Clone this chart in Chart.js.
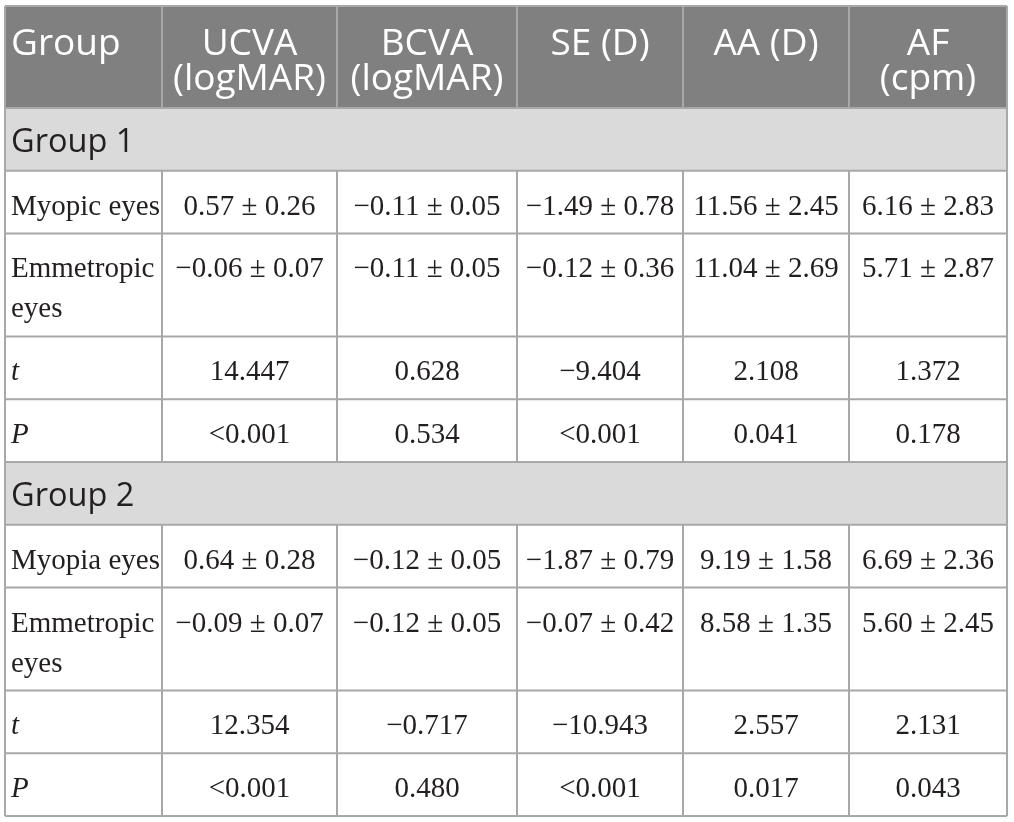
<!DOCTYPE html>
<html>
<head>
<meta charset="utf-8">
<script src="https://cdn.jsdelivr.net/npm/chart.js@4.4.1/dist/chart.umd.min.js"></script>
<style>
  html, body { margin: 0; padding: 0; background: #fff; }
  canvas { display: block; }
</style>
</head>
<body>
<canvas id="table" width="1014" height="822"></canvas>
<script>
// table content
const headers = ['Group', 'UCVA\n(logMAR)', 'BCVA\n(logMAR)', 'SE (D)', 'AA (D)', 'AF\n(cpm)'];
const groups = ['Group 1', 'Group 2'];

const g1Labels = ['Myopic eyes', 'Emmetropic\neyes', 't', 'P'];
const g1Myopic = ['0.57 ± 0.26', '−0.11 ± 0.05', '−1.49 ± 0.78', '11.56 ± 2.45', '6.16 ± 2.83'];
const g1Emmetropic = ['−0.06 ± 0.07', '−0.11 ± 0.05', '−0.12 ± 0.36', '11.04 ± 2.69', '5.71 ± 2.87'];
const g1T = ['14.447', '0.628', '−9.404', '2.108', '1.372'];
const g1P = ['<0.001', '0.534', '<0.001', '0.041', '0.178'];

const g2Labels = ['Myopia eyes', 'Emmetropic\neyes', 't', 'P'];
const g2Myopic = ['0.64 ± 0.28', '−0.12 ± 0.05', '−1.87 ± 0.79', '9.19 ± 1.58', '6.69 ± 2.36'];
const g2Emmetropic = ['−0.09 ± 0.07', '−0.12 ± 0.05', '−0.07 ± 0.42', '8.58 ± 1.35', '5.60 ± 2.45'];
const g2T = ['12.354', '−0.717', '−10.943', '2.557', '2.131'];
const g2P = ['<0.001', '0.480', '<0.001', '0.017', '0.043'];

const italicLabels = ['t', 'P'];

// layout
const colWidths = [157, 175, 180, 166, 166, 158];
const headerHeight = 102;
const lineRowHeight = 62.8;
const twoLineRowHeight = 103;

const rows = [{ type: 'header', cells: headers }];
[[g1Labels, [g1Myopic, g1Emmetropic, g1T, g1P]], [g2Labels, [g2Myopic, g2Emmetropic, g2T, g2P]]]
  .forEach(([labels, values], gi) => {
    rows.push({ type: 'group', cells: [groups[gi]] });
    labels.forEach((lab, i) => rows.push({ type: 'body', cells: [lab].concat(values[i]) }));
  });
rows.forEach(r => {
  if (r.type === 'header') r.h = headerHeight;
  else r.h = r.cells[0].includes('\n') ? twoLineRowHeight : lineRowHeight;
});

const colEdges = [0];
colWidths.forEach(w => colEdges.push(colEdges[colEdges.length - 1] + w));
const rowEdges = [0];
rows.forEach(r => rowEdges.push(rowEdges[rowEdges.length - 1] + r.h));

// one point per cell, at the cell centre
const cellPoints = [];
rows.forEach((r, ri) => {
  if (r.type === 'group') {
    cellPoints.push({ x: colEdges[0], y: (rowEdges[ri] + rowEdges[ri + 1]) / 2, row: ri, col: 0 });
    return;
  }
  r.cells.forEach((c, ci) => {
    cellPoints.push({ x: (colEdges[ci] + colEdges[ci + 1]) / 2, y: (rowEdges[ri] + rowEdges[ri + 1]) / 2, row: ri, col: ci });
  });
});

const sansFont = '"Open Sans", "Noto Sans", sans-serif';
const serifFont = '"Liberation Serif", "DejaVu Serif", serif';
const gridColor = '#a8a8a8';

const tablePlugin = {
  id: 'tableCells',
  beforeDatasetsDraw(chart) {
    const ctx = chart.ctx;
    const xs = chart.scales.x, ys = chart.scales.y;
    const px = v => xs.getPixelForValue(v);
    const py = v => ys.getPixelForValue(v);
    const left = px(colEdges[0]), right = px(colEdges[colEdges.length - 1]);

    ctx.save();
    // backgrounds
    rows.forEach((r, ri) => {
      const top = py(rowEdges[ri]), bot = py(rowEdges[ri + 1]);
      ctx.fillStyle = r.type === 'header' ? '#808080' : r.type === 'group' ? '#dadada' : '#ffffff';
      ctx.fillRect(left, top, right - left, bot - top);
    });

    // grid
    ctx.strokeStyle = gridColor;
    ctx.lineWidth = 2;
    ctx.beginPath();
    rowEdges.forEach(e => { ctx.moveTo(left, py(e)); ctx.lineTo(right, py(e)); });
    rows.forEach((r, ri) => {
      const top = py(rowEdges[ri]), bot = py(rowEdges[ri + 1]);
      const inner = r.type === 'group' ? [] : colEdges.slice(1, -1);
      [colEdges[0]].concat(inner, [colEdges[colEdges.length - 1]]).forEach(e => {
        ctx.moveTo(px(e), top); ctx.lineTo(px(e), bot);
      });
    });
    ctx.stroke();

    // text
    const meta = chart.getDatasetMeta(0);
    meta.data.forEach((pt, i) => {
      const cell = cellPoints[i];
      const r = rows[cell.row];
      const text = r.cells[cell.col];
      const top = py(rowEdges[cell.row]);
      const cl = px(colEdges[cell.col]);
      let x = pt.x, align = 'center', firstBase, step;
      if (cell.col === 0) { x = cl + 6; align = 'left'; }
      if (r.type === 'header') {
        ctx.font = '37px ' + sansFont;
        ctx.fillStyle = '#ffffff';
        firstBase = top + 49; step = 35;
      } else if (r.type === 'group') {
        ctx.font = '32.5px ' + sansFont;
        ctx.fillStyle = '#231f20';
        firstBase = top + 44; step = 35;
      } else {
        const italic = cell.col === 0 && italicLabels.includes(text);
        ctx.font = (italic ? 'italic ' : '') + '29px ' + serifFont;
        ctx.fillStyle = '#231f20';
        firstBase = top + 44; step = 40;
      }
      ctx.textAlign = align;
      ctx.textBaseline = 'alphabetic';
      text.split('\n').forEach((line, li) => ctx.fillText(line, x, firstBase + li * step));
    });
    ctx.restore();
  }
};

new Chart(document.getElementById('table'), {
  type: 'scatter',
  data: {
    datasets: [{
      data: cellPoints.map(p => ({ x: p.x, y: p.y })),
      pointRadius: 0,
      pointHoverRadius: 0
    }]
  },
  options: {
    responsive: false,
    animation: false,
    layout: { padding: { left: 5, top: 6, right: 7, bottom: 6 } },
    plugins: { legend: { display: false }, tooltip: { enabled: false } },
    scales: {
      x: { type: 'linear', display: false, min: colEdges[0], max: colEdges[colEdges.length - 1] },
      y: { type: 'linear', display: false, reverse: true, min: rowEdges[0], max: rowEdges[rowEdges.length - 1] }
    }
  },
  plugins: [tablePlugin]
});
</script>
</body>
</html>
